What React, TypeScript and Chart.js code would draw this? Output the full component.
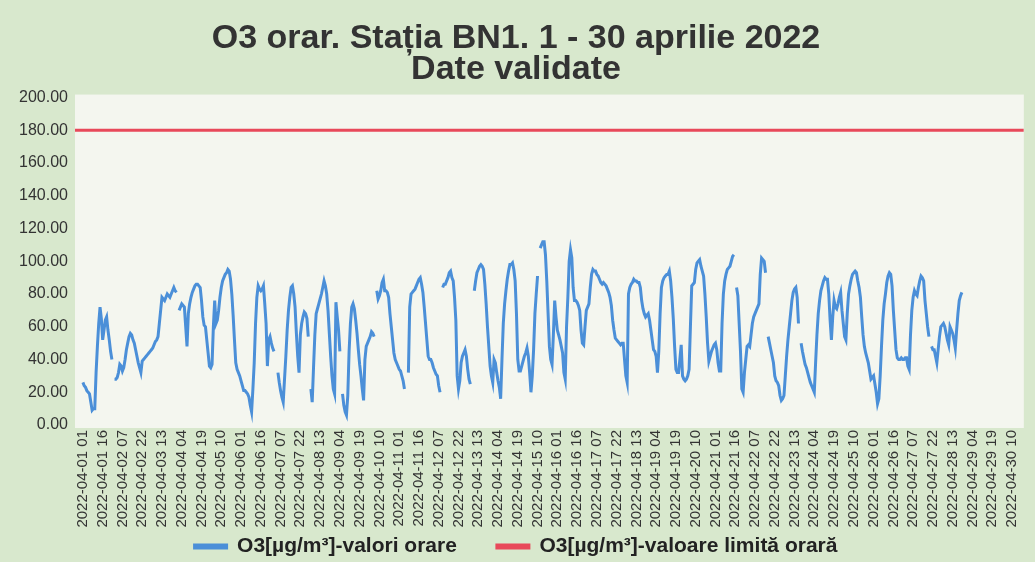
import { useEffect, useRef } from 'react';
import { Chart, registerables } from 'chart.js';

Chart.register(...registerables);

// Hourly O3 values (µg/m³), station BN1, April 2022. Each array = one day, hours 01..24. null = missing hour.
const apr01 = [26, 24, 23, 21, 20, 19, 14, 9, 10, 10, 32, 48, 62, 72, 65, 52, 58, 64, 66, 58, 52, 45, 40, null];
const apr02 = [28, 28, 29, 32, 37, 36, 33, 35, 40, 46, 50, 54, 56, 55, 52, 50, 46, 42, 38, 35, 32, 39, 40, 41];
const apr03 = [42, 43, 44, 45, 46, 47, 49, 51, 52, 54, 62, 70, 78, 77, 76, 78, 80, 79, 78, 80, 82, 84, 82, 81];
const apr04 = [null, 70, 72, 74, 73, 72, 60, 48, 68, 74, 78, 81, 83, 85, 86, 86, 85, 84, 76, 66, 61, 60, 52, 44];
const apr05 = [36, 35, 37, 60, 76, 62, 64, 70, 78, 84, 88, 90, 92, 93, 95, 94, 89, 80, 67, 52, 38, 34, 32, 30];
const apr06 = [27, 24, 21, 21, 20, 19, 17, 12, 8, 22, 38, 62, 78, 85, 83, 82, 83, 85, 74, 62, 36, 52, 54, 50];
const apr07 = [47, 45, null, null, 32, 26, 21, 17, 14, 28, 42, 58, 70, 78, 84, 85, 80, 72, 56, 42, 32, 55, 62, 66];
const apr08 = [69, 68, 65, 54, null, 22, 14, 35, 55, 68, 71, 74, 77, 80, 84, 88, 85, 80, 70, 56, 42, 30, 22, 19];
const apr09 = [75, 66, 58, 45, null, 19, 12, 8, 6, 18, 45, 62, 72, 74, 71, 64, 56, 46, 37, 30, 22, 15, 40, 48];
const apr10 = [50, 52, 54, 57, 56, 54, null, 82, 77, 79, 82, 87, 89, 82, 82, 81, 78, 68, 60, 52, 44, 40, 38, 36];
const apr11 = [34, 33, 30, 27, 22, null, null, 32, 72, 80, 81, 82, 83, 85, 87, 89, 90, 86, 81, 72, 62, 52, 42, 40];
const apr12 = [40, 38, 35, 33, 31, 30, 24, 20, null, 84, 86, 86, 88, 90, 93, 94, 90, 88, 78, 64, 30, 22, 27, 38];
const apr13 = [42, 44, 46, 42, 34, 28, 25, null, null, 82, 88, 93, 95, 97, 98, 97, 95, 86, 74, 60, 48, 36, 30, 26];
const apr14 = [40, 38, 32, 27, 23, 16, 40, 62, 74, 82, 89, 94, 98, 98, 99, 95, 88, 68, 40, 33, 33, 36, 39, 42];
const apr15 = [44, 47, 42, 32, 20, 30, 46, 68, 80, 91, null, 108, 110, 112, 112, 104, 88, 68, 48, 40, 37, 55, 76, 66];
const apr16 = [58, 55, 52, 48, 44, 32, 28, 60, 78, 100, 107, 102, 84, 76, 76, 75, 73, 70, 58, 50, 49, 60, 70, 72];
const apr17 = [74, 84, 92, 95, 94, 94, 92, 91, 89, 87, 86, 87, 86, 85, 83, 81, 78, 73, 64, 58, 53, 52, 51, 50];
const apr18 = [49, 50, 50, 40, 30, 26, 80, 84, 86, 87, 89, 88, 88, 87, 87, 84, 76, 71, 68, 66, 67, 68, 64, 58];
const apr19 = [52, 46, 45, 42, 32, 45, 68, 84, 88, 90, 91, 92, 92, 94, 88, 78, 65, 48, 34, 32, 32, 40, 49, 30];
const apr20 = [28, 27, 28, 30, 34, 60, 85, 86, 87, 95, 99, 100, 101, 97, 94, 91, 80, 66, 50, 39, 42, 45, 47, 49];
const apr21 = [50, 46, 38, 33, 33, 62, 80, 88, 92, 95, 96, 97, 100, 103, 104, null, 84, 79, 62, 45, 22, 20, 32, 40];
const apr22 = [48, 49, 48, 55, 62, 66, 68, 70, 72, 74, 92, 102, 101, 100, 93, null, 54, 50, 46, 42, 38, 30, 27, 26];
const apr23 = [24, 18, 15, 16, 18, 30, 42, 52, 60, 68, 76, 81, 83, 84, 78, 62, null, 50, 45, 41, 37, 35, 32, 29];
const apr24 = [26, 24, 22, 20, 38, 55, 68, 76, 82, 85, 88, 90, 89, 89, 80, 64, 52, 66, 76, 72, 71, 74, 78, 81];
const apr25 = [70, 62, 54, 52, 68, 80, 85, 89, 92, 93, 94, 93, 88, 84, 78, 66, 55, 48, 44, 41, 38, 33, 28, 29];
const apr26 = [30, 25, 20, 13, 16, 30, 48, 64, 74, 80, 87, 91, 93, 92, 85, 70, 58, 46, 41, 40, 40, 41, 40, 40];
const apr27 = [41, 41, 36, 34, 55, 70, 78, 82, 80, 79, 84, 88, 91, 90, 88, 76, 68, 60, 54, null, 48, 46, 46, 42];
const apr28 = [38, 46, 54, 60, 61, 62, 60, 56, 52, 49, 60, 58, 56, 52, 47, 58, 68, 76, 79, 81];

const o3Hourly: (number | null)[] = [
  ...apr01, ...apr02, ...apr03, ...apr04, ...apr05, ...apr06, ...apr07,
  ...apr08, ...apr09, ...apr10, ...apr11, ...apr12, ...apr13, ...apr14,
  ...apr15, ...apr16, ...apr17, ...apr18, ...apr19, ...apr20, ...apr21,
  ...apr22, ...apr23, ...apr24, ...apr25, ...apr26, ...apr27, ...apr28,
];

const LIMIT = 180; // valoare limită orară
const HOURS_ON_AXIS = 714;
const TICK_STEP = 15;
const X_MIN = -6;
const X_MAX = 714;

// "2022-04-DD HH" label for every hour starting at 2022-04-01 01
const hourLabels: string[] = Array.from({ length: HOURS_ON_AXIS }, (_, i) => {
  const t = i + 1;
  const day = Math.floor(t / 24) + 1;
  const hour = t % 24;
  return `2022-04-${String(day).padStart(2, '0')} ${String(hour).padStart(2, '0')}`;
});
const tickIndexes: number[] = hourLabels.map((_, i) => i).filter((i) => i % TICK_STEP === 0);

const titleLines = ['O3 orar. Stația BN1. 1 - 30 aprilie 2022', 'Date validate'];
const seriesNames = ['O3[µg/m³]-valori orare', 'O3[µg/m³]-valoare limită orară'];
const yTicks = [0, 20, 40, 60, 80, 100, 120, 140, 160, 180, 200];

const FONT = "'Liberation Sans', Arial, sans-serif";
const PAGE_BG = '#d8e8cd';
const PLOT_BG = '#f4f6ef';
const BLUE = '#4b8fd8';
const RED = '#e8495a';

const backgroundPlugin = {
  id: 'bgPlugin',
  beforeDraw(chart: any) {
    const { ctx, chartArea, width, height } = chart;
    ctx.save();
    ctx.fillStyle = PAGE_BG;
    ctx.fillRect(0, 0, width, height);
    ctx.fillStyle = PLOT_BG;
    ctx.fillRect(chartArea.left, chartArea.top - 3, chartArea.right - chartArea.left, chartArea.bottom - chartArea.top + 6);
    ctx.restore();
  },
};

// let the rotated x labels extend down towards the legend instead of being clipped
const labelRoomPlugin = {
  id: 'labelRoom',
  afterLayout(chart: any) {
    const xs = chart.scales.x;
    if (xs) xs.bottom = chart.height;
  },
};

export default function App() {
  const canvasRef = useRef<HTMLCanvasElement | null>(null);

  useEffect(() => {
    document.body.style.margin = '0';
    const canvas = canvasRef.current;
    if (!canvas) return;
    const chart = new Chart(canvas, {
      type: 'line',
      data: {
        datasets: [
          {
            label: seriesNames[0],
            data: o3Hourly.map((v, i) => ({ x: i, y: v })) as any,
            borderColor: BLUE,
            backgroundColor: BLUE,
            borderWidth: 3,
            pointRadius: 0,
            tension: 0,
            spanGaps: false,
          },
          {
            label: seriesNames[1],
            data: [
              { x: X_MIN, y: LIMIT },
              { x: X_MAX, y: LIMIT },
            ],
            borderColor: RED,
            backgroundColor: RED,
            borderWidth: 3,
            pointRadius: 0,
            tension: 0,
          },
        ],
      },
      options: {
        animation: false,
        responsive: false,
        devicePixelRatio: 1,
        layout: { padding: { top: 0, right: 3, bottom: -5, left: 0 } },
        plugins: {
          title: {
            display: true,
            text: titleLines,
            color: '#333333',
            font: { family: FONT, size: 34, weight: 'bold', lineHeight: 0.92 },
            padding: { top: 23, bottom: 12 },
          },
          legend: {
            position: 'bottom',
            labels: {
              boxWidth: 32,
              boxHeight: 3,
              padding: 40,
              color: '#222222',
              font: { family: FONT, size: 21, weight: 'bold' },
            },
          },
          tooltip: { enabled: false },
        },
        scales: {
          x: {
            type: 'linear',
            min: X_MIN,
            max: X_MAX,
            grid: { display: false, drawTicks: false },
            border: { display: false },
            afterBuildTicks: (scale: any) => {
              scale.ticks = tickIndexes.map((v) => ({ value: v }));
            },
            afterFit: (scale: any) => {
              scale.height = 71;
            },
            ticks: {
              autoSkip: false,
              minRotation: 90,
              maxRotation: 90,
              padding: 5,
              color: '#333333',
              font: { family: FONT, size: 15 },
              callback: (value: any) => hourLabels[Number(value)] ?? '',
            },
          },
          y: {
            min: 0,
            max: 200,
            grid: { display: false, drawTicks: false },
            border: { display: false },
            afterBuildTicks: (scale: any) => {
              scale.ticks = yTicks.map((v) => ({ value: v }));
            },
            afterFit: (scale: any) => {
              scale.width = 75;
            },
            ticks: {
              padding: 7,
              color: '#333333',
              font: { family: FONT, size: 16 },
              callback: (value: any) => Number(value).toFixed(2),
            },
          },
        },
      },
      plugins: [backgroundPlugin, labelRoomPlugin],
    });
    return () => chart.destroy();
  }, []);

  return (
    <div style={{ position: 'fixed', left: 0, top: 0, width: 1035, height: 562, background: PAGE_BG }}>
      <canvas ref={canvasRef} width={1035} height={562} style={{ display: 'block' }} />
    </div>
  );
}
